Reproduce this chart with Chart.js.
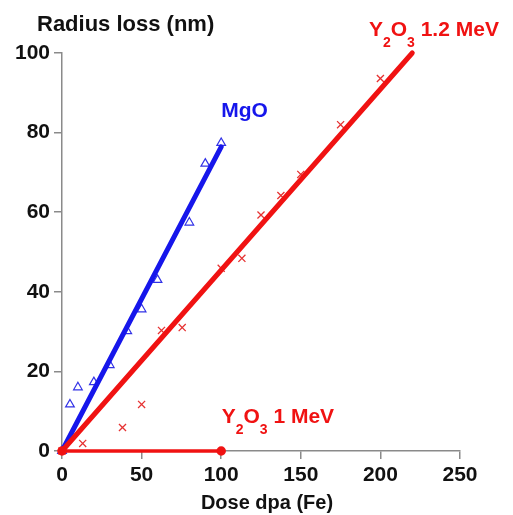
<!DOCTYPE html>
<html>
<head>
<meta charset="utf-8">
<script src="https://cdn.jsdelivr.net/npm/chart.js@4.4.0/dist/chart.umd.min.js"></script>
<style>
  html, body { margin: 0; padding: 0; background: #fff; }
  #wrap { width: 513px; height: 515px; }
</style>
</head>
<body>
<div id="wrap"><canvas id="chart-radius-loss" width="513" height="515"></canvas></div>
<script>
var mgoDose = [0, 5, 10, 20, 30, 41, 50, 60, 80, 90, 100];
var mgoLoss = [0, 11.7, 16, 17.3, 21.6, 30.1, 35.6, 43, 57.4, 72.2, 77.4];
var y2o3HighDose = [0, 13, 38, 50, 62.5, 75.5, 100, 113, 125, 137.5, 150, 175, 200];
var y2o3HighLoss = [0, 1.9, 5.9, 11.7, 30.3, 31, 45.9, 48.4, 59.3, 64.2, 69.5, 82, 93.6];
// linear fits
var mgoFitDose = [0, 100];
var mgoFitLoss = [0, 76.4];
var y2o3HighFitDose = [0, 220];
var y2o3HighFitLoss = [0, 100];
var y2o3LowDose = [0, 100];
var y2o3LowLoss = [0, 0];
// axes
var xTicks = [0, 50, 100, 150, 200, 250];
var yTicks = [0, 20, 40, 60, 80, 100];

var BLUE = 'rgb(22,22,235)';
var RED = 'rgb(240,18,18)';
var FONT = '"Liberation Sans", Arial, Helvetica, sans-serif';

function toPoints(xs, ys) {
    return xs.map((x, i) => ({ x: x, y: ys[i] }));
}

// draws a formula like Y2O3 with subscripts, left aligned on a baseline
function drawChemLabel(ctx, x, y, parts, size) {
    parts.forEach((p) => {
        var sub = p[1] === true;
        ctx.font = 'bold ' + (sub ? Math.round(size * 0.66) : size) + 'px ' + FONT;
        ctx.fillText(p[0], x, sub ? y + size * 0.5 : y);
        x += ctx.measureText(p[0]).width;
    });
}

var labelPlugin = {
    id: 'labels',
    afterDatasetsDraw(chart) {
        var ctx = chart.ctx;
        var xs = chart.scales.x, ys = chart.scales.y;
        var area = chart.chartArea;
        ctx.save();
        ctx.textBaseline = 'alphabetic';
        ctx.textAlign = 'left';

        ctx.fillStyle = '#111';
        ctx.font = 'bold 22px ' + FONT;
        ctx.fillText('Radius loss (nm)', 37, 31);
        ctx.textAlign = 'center';
        ctx.font = 'bold 20px ' + FONT;
        ctx.fillText('Dose dpa (Fe)', (area.left + area.right) / 2 + 6, 509);
        ctx.textAlign = 'left';

        ctx.fillStyle = BLUE;
        ctx.font = 'bold 21px ' + FONT;
        ctx.fillText('MgO', xs.getPixelForValue(100), ys.getPixelForValue(84));

        ctx.fillStyle = RED;
        drawChemLabel(ctx, xs.getPixelForValue(192.8), ys.getPixelForValue(104.2),
            [['Y'], ['2', true], ['O'], ['3', true], [' 1.2 MeV']], 21);
        drawChemLabel(ctx, xs.getPixelForValue(100.3), ys.getPixelForValue(7),
            [['Y'], ['2', true], ['O'], ['3', true], [' 1 MeV']], 21);
        ctx.restore();
    }
};

function axisOptions(ticks, min, max, size) {
    return {
        type: 'linear',
        min: min,
        max: max,
        afterBuildTicks: (scale) => { scale.ticks = ticks.map((v) => ({ value: v })); },
        afterFit: (scale) => {
            if (scale.axis === 'y') scale.width = size; else scale.height = size;
        },
        grid: { drawOnChartArea: false, drawTicks: true, tickLength: 8, color: '#8a8a8a', lineWidth: 1.5 },
        border: { display: true, color: '#8a8a8a', width: 1.5 },
        ticks: {
            color: '#111',
            padding: 4,
            font: { family: FONT, size: 21, weight: 'bold' }
        }
    };
}

function createRadiusLossChart() {
    const ctx = document.getElementById('chart-radius-loss');
    new Chart(ctx, {
        type: 'scatter',
        data: {
            datasets: [
                {
                    label: 'Y2O3 1 MeV',
                    data: toPoints(y2o3LowDose, y2o3LowLoss),
                    showLine: true,
                    borderColor: RED,
                    backgroundColor: RED,
                    borderWidth: 3.5,
                    pointRadius: 3,
                    pointStyle: 'circle',
                    clip: false
                },
                {
                    label: 'Y2O3 1.2 MeV fit',
                    data: toPoints(y2o3HighFitDose, y2o3HighFitLoss),
                    showLine: true,
                    borderColor: RED,
                    borderWidth: 5,
                    borderCapStyle: 'round',
                    pointRadius: 0,
                    clip: false
                },
                {
                    label: 'MgO fit',
                    data: toPoints(mgoFitDose, mgoFitLoss),
                    showLine: true,
                    borderColor: BLUE,
                    borderWidth: 5,
                    borderCapStyle: 'round',
                    pointRadius: 0,
                    clip: false
                },
                {
                    label: 'Y2O3 1.2 MeV',
                    data: toPoints(y2o3HighDose, y2o3HighLoss),
                    showLine: false,
                    pointStyle: 'crossRot',
                    pointRadius: 5,
                    borderColor: 'rgb(230,50,50)',
                    pointBorderWidth: 1.3,
                    clip: false
                },
                {
                    label: 'MgO',
                    data: toPoints(mgoDose, mgoLoss),
                    showLine: false,
                    pointStyle: 'triangle',
                    pointRadius: 5,
                    borderColor: 'rgb(50,50,230)',
                    backgroundColor: 'rgba(0,0,0,0)',
                    pointBorderWidth: 1.2,
                    clip: false
                }
            ]
        },
        options: {
            responsive: false,
            animation: false,
            layout: { padding: { left: 0, right: 53, top: 53, bottom: 0 } },
            plugins: {
                legend: { display: false },
                tooltip: { enabled: false }
            },
            scales: {
                x: axisOptions(xTicks, 0, 250, 64),
                y: axisOptions(yTicks, 0, 100, 62)
            }
        },
        plugins: [labelPlugin]
    });
}

createRadiusLossChart();
</script>
</body>
</html>
